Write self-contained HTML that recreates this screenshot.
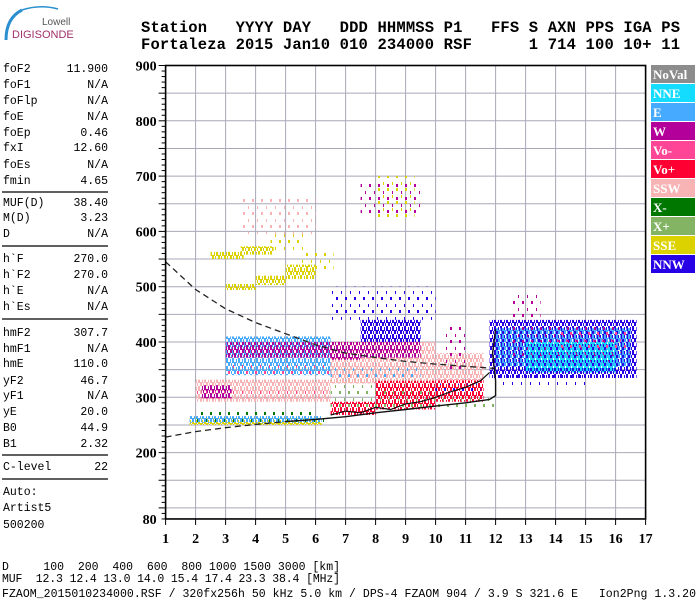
<!DOCTYPE html>
<html><head><meta charset="utf-8"><style>
body{margin:0;background:#fff;}
svg{display:block;}
.mono{font-family:"Liberation Mono",monospace;}
.ser{font-family:"Liberation Serif",serif;font-weight:bold;}
</style></head><body>
<svg id="ion" width="700" height="600" viewBox="0 0 700 600" xmlns="http://www.w3.org/2000/svg">
<defs id="defs"></defs>
<rect width="700" height="600" fill="#fff"/>
<g>
<path d="M22 10 Q6 18 6 40" stroke="#2a8fd0" stroke-width="3" fill="none"/>
<path d="M22 10 Q40 4 58 9" stroke="#2a8fd0" stroke-width="1.5" fill="none"/>
<text x="42" y="25" font-family="Liberation Sans,sans-serif" font-size="10" fill="#555">Lowell</text>
<text x="12" y="38" font-family="Liberation Sans,sans-serif" font-size="11" fill="#a0306a">DIGISONDE</text>
</g>
<g class="mono" font-weight="bold" font-size="15.5" fill="#000">
<text x="141" y="32" textLength="539" xml:space="preserve">Station   YYYY DAY   DDD HHMMSS P1   FFS S AXN PPS IGA PS</text>
<text x="141" y="49" textLength="539" xml:space="preserve">Fortaleza 2015 Jan10 010 234000 RSF      1 714 100 10+ 11</text>
</g>
<g id="params" class="mono" font-size="11.5" fill="#000"></g>
<g id="grid"></g>
<g id="echoes"></g>
<g id="curves"></g>
<g id="axes"></g>
<g id="legend"></g>
<g class="mono" font-size="11.5" fill="#000">
<text x="2" y="570" textLength="338" xml:space="preserve">D     100  200  400  600  800 1000 1500 3000 [km]</text>
<text x="2" y="582" textLength="338" xml:space="preserve">MUF  12.3 12.4 13.0 14.0 15.4 17.4 23.3 38.4 [MHz]</text>
<text x="2" y="597" textLength="694" xml:space="preserve">FZAOM_2015010234000.RSF / 320fx256h 50 kHz 5.0 km / DPS-4 FZAOM 904 / 3.9 S 321.6 E   Ion2Png 1.3.20</text>
</g>
</svg>
<script>
// ---- data ----
const paramNames=["foF2","foF1","foFlp","foE","foEp","fxI","foEs","fmin","MUF(D)","M(D)","D","h`F","h`F2","h`E","h`Es","hmF2","hmF1","hmE","yF2","yF1","yE","B0","B1","C-level"];
const paramValues=["11.900","N/A","N/A","N/A","0.46","12.60","N/A","4.65","38.40","3.23","N/A","270.0","270.0","N/A","N/A","307.7","N/A","110.0","46.7","N/A","20.0","44.9","2.32","22"];
const xTicks=[1,2,3,4,5,6,7,8,9,10,11,12,13,14,15,16,17];
const yTicks=[80,200,300,400,500,600,700,800,900];
const legendNames=["NoVal","NNE","E","W","Vo-","Vo+","SSW","X-","X+","SSE","NNW"];
const legendColors=["#8c8c8c","#14dcff","#46aaff","#b4009a","#ff4696","#ff0032","#f8b4b4","#007800","#82b464","#dcd200","#2800e6"];
// echo regions: freq lo, freq hi, height lo, height hi, legend index, density (1 dense, 0 sparse)
const regFLo=[1.8,1.8,2.0,2.2,2.0,3.0,3.0,3.0,2.5,3.5,4.5,3.0,4.0,5.0,5.5,3.5,6.5,8.0,10.0,6.5,6.5,7.5,6.5,7.5,6.5,8.0,7.5,10.0,10.3,11.8,12.0,12.5,13.0,14.0,12.5,6.5,8.0,2.0,10.0,2.0,6.5,12.0];
const regFHi=[6.2,6.2,6.5,3.2,6.5,6.5,6.5,6.5,3.6,4.6,5.6,4.0,5.0,6.0,6.6,6.0,8.0,10.0,11.6,10.0,7.5,9.5,10.0,9.5,10.0,9.3,9.5,11.6,11.0,16.7,16.5,16.0,16.0,16.5,13.5,9.5,11.5,6.0,11.5,6.5,12.0,15.0];
const regHLo=[250,254,292,298,300,340,372,335,550,558,565,494,503,514,530,595,268,278,292,325,368,400,440,372,300,620,630,330,345,335,355,365,345,380,440,330,300,262,305,255,280,320];
const regHHi=[262,266,332,322,315,410,400,360,563,573,595,505,520,540,565,660,292,305,332,400,400,440,500,400,330,700,690,380,430,440,425,430,400,420,490,360,330,275,325,268,300,345];
const regCol=[9,2,6,3,4,2,3,4,9,9,9,9,9,9,9,6,5,5,5,6,3,10,10,3,8,9,3,6,3,10,2,3,1,4,3,2,5,7,10,7,8,10];
const regDense=[1,1,1,1,0,1,1,0,1,1,0,1,1,1,0,0,1,1,1,1,1,1,0,1,0,0,0,1,0,1,1,0,1,0,0,0,1,0,0,0,0,0];
// curves
const upFreq=[1.0,2.0,3.0,4.0,5.0,6.0,7.0,8.0,9.0,10.0,11.0,12.0];
const upH=[545,495,460,435,415,395,380,372,365,360,356,352];
const loFreq=[1.0,2.0,3.0,4.0,5.0];
const loH=[228,238,245,251,256];
const solFreq=[5.0,6.0,7.0,8.0,9.0,10.0,11.0,11.8,12.0,12.0,11.9,12.0];
const solH=[256,260,265,272,278,284,290,296,303,330,380,423];
const trFreq=[6.5,7.0,7.5,8.0,8.5,9.0,9.5,10.0,10.5,11.0,11.5,11.8];
const trH=[268,275,272,282,278,288,292,300,310,318,330,345];
// ---- scales ----
const X0=165.6,XW=30,Y300=397.3,YK=0.553;
const xs=f=>X0+(f-1)*XW;
const ys=h=>Y300-(h-300)*YK;
const NS="http://www.w3.org/2000/svg";
function mk(tag,attrs,parent){const e=document.createElementNS(NS,tag);for(const k in attrs)e.setAttribute(k,attrs[k]);parent.appendChild(e);return e;}
const P=document.getElementById('params');
const rowY=[72,88,104,120,136,151,168,184,206,221,237,262,278,294,310,336,352,367,384,399,415,431,447,470];
paramNames.forEach((n,i)=>{
 const t=mk('text',{x:3,y:rowY[i]},P);t.textContent=n;
 
 
 const v=mk('text',{x:108,y:rowY[i],'text-anchor':'end'},P);v.textContent=paramValues[i];
 
 
});
[192,246,319,455,479].forEach(y=>{const l=mk('line',{x1:2,x2:108,y1:y,y2:y,stroke:'#000','stroke-width':1.3},P);
 
 });
[["Auto:",495],["Artist5",511],["500200",528]].forEach(([s,y])=>{const t=mk('text',{x:3,y:y},P);t.textContent=s;
 
 });
const D=document.getElementById('defs');
legendColors.forEach((c,i)=>{
 const p=mk('pattern',{id:'d'+i,width:6,height:8,patternUnits:'userSpaceOnUse',x:(i*2)%6,y:(i*3)%8},D);
 mk('rect',{x:0,y:0,width:2,height:5,fill:c},p);
 mk('rect',{x:2,y:4,width:2,height:4,fill:c},p);
 mk('rect',{x:4,y:1,width:1,height:4,fill:c},p);
 mk('rect',{x:5,y:5,width:1,height:3,fill:c},p);
 const q=mk('pattern',{id:'s'+i,width:9,height:13,patternUnits:'userSpaceOnUse',x:(i*3)%9,y:(i*5)%13},D);
 mk('rect',{x:0,y:0,width:2,height:3,fill:c},q);
 mk('rect',{x:5,y:7,width:1,height:3,fill:c},q);
});
const G=document.getElementById('grid');
xTicks.forEach(f=>{const l=mk('line',{x1:xs(f),x2:xs(f),y1:ys(900),y2:ys(80),stroke:'#a8a8b8','stroke-width':1},G);
 
 });
for(let h=100;h<900;h+=50){const l=mk('line',{x1:xs(1),x2:xs(17),y1:ys(h),y2:ys(h),stroke:'#a8a8b8','stroke-width':1},G);
 
 }
const E=document.getElementById('echoes');
regFLo.forEach((f,i)=>{
 const r=mk('rect',{x:xs(f),y:ys(regHHi[i]),width:xs(regFHi[i])-xs(f),height:ys(regHLo[i])-ys(regHHi[i]),fill:'url(#'+(regDense[i]?'d':'s')+regCol[i]+')'},E);
 
 
});
const C=document.getElementById('curves');
function path(fa,ha){return fa.map((f,i)=>(i?'L':'M')+xs(f).toFixed(1)+' '+ys(ha[i]).toFixed(1)).join(' ');}
let c1=mk('path',{d:path(upFreq,upH),fill:'none',stroke:'#222','stroke-width':1.3,'stroke-dasharray':'6 4'},C);


let c2=mk('path',{d:path(loFreq,loH),fill:'none',stroke:'#222','stroke-width':1.3,'stroke-dasharray':'6 4'},C);


let c3=mk('path',{d:path(solFreq,solH),fill:'none',stroke:'#111','stroke-width':1.4},C);


let c4=mk('path',{d:path(trFreq,trH),fill:'none',stroke:'#111','stroke-width':1.2},C);


const A=document.getElementById('axes');
let fr=mk('rect',{x:xs(1),y:ys(900),width:xs(17)-xs(1),height:ys(80)-ys(900),fill:'none',stroke:'#000','stroke-width':1.6},A);


for(let h=80;h<=900;h+=10){const big=h%50==0;mk('line',{x1:xs(1)-(big?7:4),x2:xs(1),y1:ys(h),y2:ys(h),stroke:'#000','stroke-width':1},A);}
yTicks.forEach(h=>{const t=mk('text',{x:xs(1)-9,y:ys(h)+5,'text-anchor':'end','font-size':14,class:'ser'},A);t.textContent=h;
 
 });
xTicks.forEach(f=>{mk('line',{x1:xs(f),x2:xs(f),y1:ys(80),y2:ys(80)+6,stroke:'#000'},A);
 const t=mk('text',{x:xs(f),y:543,'text-anchor':'middle','font-size':14,class:'ser'},A);t.textContent=f;
 
 });
const L=document.getElementById('legend');
legendNames.forEach((n,i)=>{
 const g=mk('g',{},L);
 
 
 const y=65+i*19;
 mk('rect',{x:651,y:y,width:44,height:18,fill:legendColors[i]},g);
 const t=mk('text',{x:653,y:y+14,fill:'#fff','font-size':13,class:'ser'},g);t.textContent=n;
});
</script>
</body></html>
